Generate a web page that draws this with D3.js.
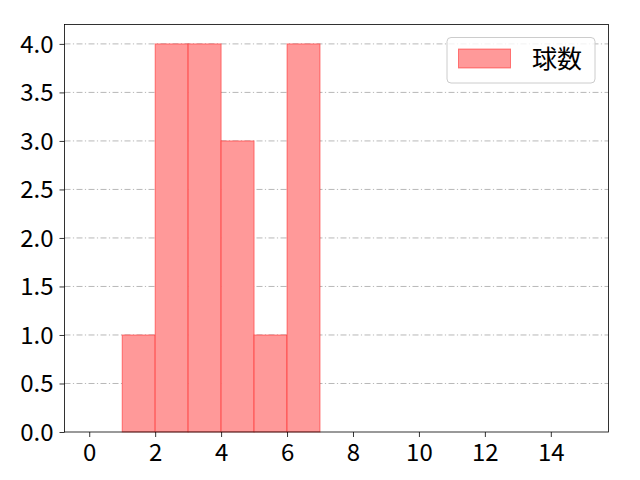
<!DOCTYPE html>
<html><head><meta charset="utf-8">
<script src="https://cdn.jsdelivr.net/npm/d3@7"></script>
<style>body{margin:0;background:#fff}</style>
</head><body>
<svg id="c" width="640" height="480"></svg>
<script>
const binStarts = [1, 2, 3, 4, 5, 6];
const binWidth = 1;
const counts = [1, 4, 4, 3, 1, 4];
const xTicks = [0, 2, 4, 6, 8, 10, 12, 14];
const yTicks = [0.0, 0.5, 1.0, 1.5, 2.0, 2.5, 3.0, 3.5, 4.0];
const seriesName = "球数";

const svg = d3.select("#c");
const L = 64.5, R = 608.5, T = 24.5, B = 432;
const font = "'Noto Sans CJK JP', 'Noto Sans', sans-serif";
const x = d3.scaleLinear().domain([-0.75, 15.75]).range([L, R]);
const y = d3.scaleLinear().domain([0, 4.2]).range([B, T]);

// grid
svg.append("g").selectAll("line").data(yTicks.filter(d => d > 0)).join("line")
  .attr("x1", L).attr("x2", R).attr("y1", d => y(d)).attr("y2", d => y(d))
  .attr("stroke", "#b0b0b0").attr("stroke-width", 0.9).attr("stroke-dasharray", "6,2.4,1.2,2.4");

// bars
svg.append("g").selectAll("rect").data(binStarts).join("rect")
  .attr("x", (d) => x(d)).attr("width", d => x(d + binWidth) - x(d))
  .attr("y", (d, i) => y(counts[i])).attr("height", (d, i) => B - y(counts[i]))
  .attr("fill", "#ff9999").attr("stroke", "#ff0000").attr("stroke-opacity", 0.45).attr("stroke-width", 1);

// axes
const xAxis = svg.append("g").attr("transform", `translate(0,${B})`)
  .call(d3.axisBottom(x).tickValues(xTicks).tickFormat(d3.format("d")).tickSizeOuter(0).tickSize(5).tickPadding(7));
const yAxis = svg.append("g").attr("transform", `translate(${L},0)`)
  .call(d3.axisLeft(y).tickValues(yTicks).tickFormat(d3.format(".1f")).tickSizeOuter(0).tickSize(5).tickPadding(6));
[xAxis, yAxis].forEach(a => {
  a.select(".domain").remove();
  a.selectAll("line").attr("stroke", "#000").attr("stroke-width", 0.8);
  a.selectAll("text").attr("font-family", font).attr("font-size", 24).attr("fill", "#000");
});
yAxis.selectAll("text").attr("dy", "0.35em");

// frame
svg.append("rect").attr("x", L).attr("y", T).attr("width", R - L).attr("height", B - T)
  .attr("fill", "none").attr("stroke", "#000").attr("stroke-width", 0.8);

// legend
const lg = svg.append("g");
lg.append("rect").attr("x", 447).attr("y", 37.5).attr("width", 148).attr("height", 45.5)
  .attr("rx", 4).attr("fill", "#fff").attr("fill-opacity", 0.8).attr("stroke", "#cccccc").attr("stroke-width", 1);
lg.append("rect").attr("x", 458.5).attr("y", 49).attr("width", 52).attr("height", 19)
  .attr("fill", "#ff9999").attr("stroke", "#ff0000").attr("stroke-opacity", 0.45).attr("stroke-width", 1);
lg.append("text").attr("x", 532).attr("y", 68).text(seriesName)
  .attr("font-family", font).attr("font-size", 25).attr("fill", "#000");
</script>
</body></html>
